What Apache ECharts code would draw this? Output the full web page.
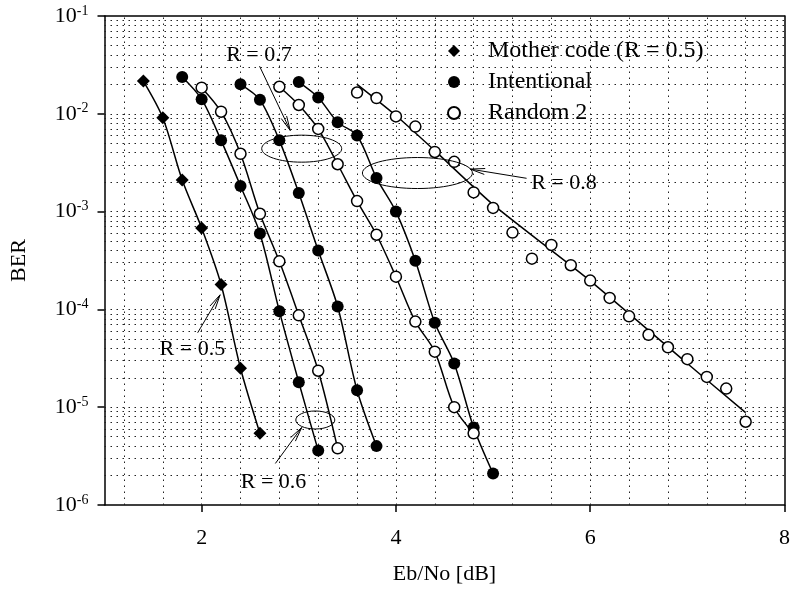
<!DOCTYPE html>
<html>
<head>
<meta charset="utf-8">
<script src="https://cdn.jsdelivr.net/npm/echarts@6/dist/echarts.min.js"></script>
<style>
  html, body { margin: 0; padding: 0; background: #fff; }
  #chart { width: 793px; height: 590px; }
</style>
</head>
<body>
<div id="chart"></div>
<script>
// values (Eb/No in dB, BER)
const ebnoMother = [1.4, 1.6, 1.8, 2.0, 2.2, 2.4, 2.6];
const berMother  = [2.16e-2, 9.1e-3, 2.1e-3, 6.8e-4, 1.8e-4, 2.5e-5, 5.4e-6];

const ebnoInt06 = [1.8, 2.0, 2.2, 2.4, 2.6, 2.8, 3.0, 3.2];
const berInt06  = [2.38e-2, 1.41e-2, 5.35e-3, 1.83e-3, 5.97e-4, 9.6e-5, 1.8e-5, 3.6e-6];

const ebnoRnd06 = [2.0, 2.2, 2.4, 2.6, 2.8, 3.0, 3.2, 3.4];
const berRnd06  = [1.85e-2, 1.05e-2, 3.9e-3, 9.5e-4, 3.1e-4, 8.7e-5, 2.36e-5, 3.8e-6];

const ebnoInt07 = [2.4, 2.6, 2.8, 3.0, 3.2, 3.4, 3.6, 3.8];
const berInt07  = [2.0e-2, 1.39e-2, 5.35e-3, 1.55e-3, 4.0e-4, 1.07e-4, 1.49e-5, 4.0e-6];

const ebnoRnd07 = [2.8, 3.0, 3.2, 3.4, 3.6, 3.8, 4.0, 4.2, 4.4, 4.6, 4.8];
const berRnd07  = [1.89e-2, 1.23e-2, 7.0e-3, 3.05e-3, 1.28e-3, 5.8e-4, 2.16e-4, 7.5e-5, 3.7e-5, 1.0e-5, 5.4e-6];

const ebnoInt08 = [3.0, 3.2, 3.4, 3.6, 3.8, 4.0, 4.2, 4.4, 4.6, 4.8, 5.0];
const berInt08  = [2.11e-2, 1.47e-2, 8.2e-3, 6.0e-3, 2.2e-3, 1.0e-3, 3.14e-4, 7.3e-5, 2.8e-5, 6.2e-6, 2.1e-6];

const ebnoRnd08 = [3.6, 3.8, 4.0, 4.2, 4.4, 4.6, 4.8, 5.0, 5.2, 5.4, 5.6, 5.8, 6.0, 6.2, 6.4, 6.6, 6.8, 7.0, 7.2, 7.4, 7.6];
const berRnd08  = [1.65e-2, 1.45e-2, 9.4e-3, 7.4e-3, 4.07e-3, 3.23e-3, 1.57e-3, 1.09e-3, 6.1e-4, 3.3e-4, 4.56e-4, 2.83e-4,
                   1.97e-4, 1.31e-4, 8.5e-5, 5.5e-5, 4.1e-5, 3.1e-5, 2.04e-5, 1.55e-5, 7.1e-6];
// fitted line drawn through the R = 0.8 random points
const ebnoFit08 = [3.6, 4.0, 4.4, 5.0, 6.0, 7.0, 7.6];
const berFit08  = [2.0e-2, 9.6e-3, 4.2e-3, 1.18e-3, 1.96e-4, 2.8e-5, 8.8e-6];

const xTicks = [2, 4, 6, 8];
const xGridLines = [1.2, 1.6, 2.0, 2.4, 2.8, 3.2, 3.6, 4.0, 4.4, 4.8, 5.2, 5.6, 6.0, 6.4, 6.8, 7.2, 7.6];
const yDecades = [-6, -5, -4, -3, -2];
const yMantissas = [2, 3, 4, 5, 6, 7, 8, 9, 10];

const legendNames = ['Mother code (R = 0.5)', 'Intentional', 'Random 2'];

// annotation texts / arrows / ellipses (data coordinates)
const noteText = ['R = 0.7', 'R = 0.8', 'R = 0.5', 'R = 0.6'];
const notePos = [[2.59, 0.040], [5.73, 1.95e-3], [1.905, 3.9e-5], [2.74, 1.7e-6]];
const arrowFrom = [[2.596, 0.0307], [5.345, 2.19e-3], [1.959, 5.77e-5], [2.759, 2.66e-6]];
const arrowTo = [[2.912, 6.75e-3], [4.765, 2.72e-3], [2.19, 1.41e-4], [3.03, 6.2e-6]];
const ellipseAt = [[3.03, 4.4e-3], [4.221, 2.48e-3], [3.17, 7.4e-6]];
const ellipseR = [[40, 13.5], [55, 15.5], [19.5, 9]];

const FONT = 'Liberation Serif';
const X_MIN = 1, X_MAX = 8, Y_MIN = 1e-6, Y_MAX = 1e-1;
const pair = (xs, ys) => xs.map((x, i) => [x, ys[i]]);

// dotted grid: vertical lines every 0.4 dB, horizontal lines at 2..10 x 10^k
const gridSegs = [];
xGridLines.forEach(v => gridSegs.push({ coords: [[v, Y_MIN], [v, Y_MAX]] }));
yDecades.forEach(d => yMantissas.forEach(m => {
    const v = m * Math.pow(10, d);
    if (v < 0.099) gridSegs.push({ coords: [[X_MIN, v], [X_MAX, v]] });
}));

function lineSeries(xs, ys, extra) {
    return Object.assign({
        type: 'line',
        data: pair(xs, ys),
        smooth: 0.3,
        showSymbol: false,
        symbol: 'none',
        silent: true,
        lineStyle: { color: '#000', width: 1.5 },
        z: 3
    }, extra || {});
}

function markerSeries(name, xs, ys, symbol, size, fill) {
    return {
        name: name,
        type: 'scatter',
        data: pair(xs, ys),
        symbol: symbol,
        symbolSize: size,
        itemStyle: { color: fill, borderColor: '#000', borderWidth: fill === '#fff' ? 1.5 : 0, opacity: 1 },
        z: 5
    };
}

const chart = echarts.init(document.getElementById('chart'));

chart.setOption({
    animation: false,
    backgroundColor: '#fff',
    grid: { left: 104.5, right: 5, top: 16, bottom: 80, containLabel: false },
    legend: {
        data: legendNames,
        orient: 'vertical',
        left: 442,
        top: 34,
        itemWidth: 12,
        itemHeight: 12,
        itemGap: 7,
        selectedMode: false,
        textStyle: { fontFamily: FONT, fontSize: 24, color: '#000', padding: [0, 0, 0, 23] }
    },
    xAxis: [{
        type: 'value',
        min: X_MIN,
        max: X_MAX,
        name: 'Eb/No [dB]',
        nameLocation: 'middle',
        nameGap: 58,
        nameTextStyle: { fontFamily: FONT, fontSize: 22, color: '#000' },
        axisLine: { lineStyle: { color: '#000', width: 1.5 } },
        axisTick: { customValues: xTicks, length: 7, lineStyle: { color: '#000', width: 1.5 } },
        axisLabel: { customValues: xTicks, margin: 22, fontFamily: FONT, fontSize: 22, color: '#000' },
        splitLine: { show: false }
    }, {
        type: 'value',
        position: 'top',
        min: X_MIN,
        max: X_MAX,
        axisLine: { show: true, lineStyle: { color: '#000', width: 1.5 } },
        axisTick: { show: false },
        axisLabel: { show: false },
        splitLine: { show: false }
    }],
    yAxis: [{
        type: 'log',
        logBase: 10,
        min: Y_MIN,
        max: Y_MAX,
        name: 'BER',
        nameLocation: 'middle',
        nameGap: 74,
        nameTextStyle: { fontFamily: FONT, fontSize: 22, color: '#000' },
        axisLine: { show: true, lineStyle: { color: '#000', width: 1.5 } },
        axisTick: { length: 7, lineStyle: { color: '#000', width: 1.5 } },
        axisLabel: {
            margin: 16,
            formatter: v => '{b|10}{s|' + Math.round(Math.log10(v)) + '}',
            rich: {
                b: { fontFamily: FONT, fontSize: 22, color: '#000' },
                s: { fontFamily: FONT, fontSize: 14, color: '#000', padding: [0, 0, 10, 0] }
            }
        },
        splitLine: { show: false }
    }, {
        type: 'log',
        logBase: 10,
        position: 'right',
        min: Y_MIN,
        max: Y_MAX,
        axisLine: { show: true, lineStyle: { color: '#000', width: 1.5 } },
        axisTick: { show: false },
        axisLabel: { show: false },
        splitLine: { show: false }
    }],
    series: [
        {
            type: 'lines',
            coordinateSystem: 'cartesian2d',
            silent: true,
            z: 1,
            lineStyle: { color: '#222', width: 1, type: [1.5, 4.5], opacity: 1 },
            data: gridSegs
        },
        lineSeries(ebnoMother, berMother),
        lineSeries(ebnoInt06, berInt06),
        lineSeries(ebnoRnd06, berRnd06),
        lineSeries(ebnoInt07, berInt07),
        lineSeries(ebnoRnd07, berRnd07),
        lineSeries(ebnoInt08, berInt08),
        lineSeries(ebnoFit08, berFit08, { smooth: 0.2 }),
        markerSeries(legendNames[0], ebnoMother, berMother, 'diamond', 13, '#000'),
        markerSeries(legendNames[1], ebnoInt06, berInt06, 'circle', 12, '#000'),
        markerSeries(legendNames[1], ebnoInt07, berInt07, 'circle', 12, '#000'),
        markerSeries(legendNames[1], ebnoInt08, berInt08, 'circle', 12, '#000'),
        markerSeries(legendNames[2], ebnoRnd06, berRnd06, 'circle', 11, '#fff'),
        markerSeries(legendNames[2], ebnoRnd07, berRnd07, 'circle', 11, '#fff'),
        markerSeries(legendNames[2], ebnoRnd08, berRnd08, 'circle', 11, '#fff')
    ]
});

// annotations: labels, arrows and ellipses placed through the axes
function toPx(p) {
    return chart.convertToPixel({ gridIndex: 0 }, p);
}

const graphics = [];
noteText.forEach((t, i) => {
    const p = toPx(notePos[i]);
    graphics.push({
        type: 'text', x: p[0], y: p[1], z: 20,
        style: { text: t, fontFamily: FONT, fontSize: 22, fill: '#000', align: 'center', verticalAlign: 'middle' }
    });
    const a = toPx(arrowFrom[i]);
    const b = toPx(arrowTo[i]);
    const ang = Math.atan2(b[1] - a[1], b[0] - a[0]);
    const len = 15, spread = 0.2;
    const h1 = [b[0] - len * Math.cos(ang - spread), b[1] - len * Math.sin(ang - spread)];
    const h2 = [b[0] - len * Math.cos(ang + spread), b[1] - len * Math.sin(ang + spread)];
    graphics.push({
        type: 'polyline', z: 20, shape: { points: [a, b] },
        style: { stroke: '#000', lineWidth: 1, fill: null }
    });
    graphics.push({
        type: 'polyline', z: 20, shape: { points: [h1, b, h2] },
        style: { stroke: '#000', lineWidth: 1, fill: null }
    });
});
ellipseAt.forEach((c, i) => {
    const p = toPx(c);
    graphics.push({
        type: 'ellipse', z: 20,
        shape: { cx: p[0], cy: p[1], rx: ellipseR[i][0], ry: ellipseR[i][1] },
        style: { stroke: '#000', lineWidth: 1, fill: null }
    });
});
chart.setOption({ graphic: graphics });
</script>
</body>
</html>
